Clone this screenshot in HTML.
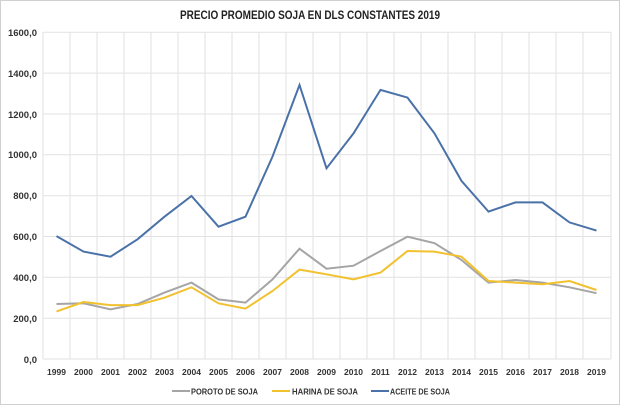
<!DOCTYPE html>
<html><head><meta charset="utf-8"><style>
html,body{margin:0;padding:0;background:#fff;}
svg{display:block;font-family:"Liberation Sans",Arial,sans-serif;}
</style></head><body>
<svg width="620" height="405" viewBox="0 0 620 405" xmlns="http://www.w3.org/2000/svg">
<rect x="0.5" y="0.5" width="619" height="404" fill="#fff" stroke="#d0d0d0"/>
<text x="180" y="19" font-size="12" font-weight="bold" fill="#222" textLength="260" lengthAdjust="spacingAndGlyphs">PRECIO PROMEDIO SOJA EN DLS CONSTANTES 2019</text>
<g stroke="#e2e2e2" stroke-width="1">
<line x1="43" y1="32.3" x2="611" y2="32.3"/><line x1="43" y1="73.1" x2="611" y2="73.1"/><line x1="43" y1="114" x2="611" y2="114"/><line x1="43" y1="154.8" x2="611" y2="154.8"/><line x1="43" y1="195.7" x2="611" y2="195.7"/><line x1="43" y1="236.5" x2="611" y2="236.5"/><line x1="43" y1="277.3" x2="611" y2="277.3"/><line x1="43" y1="318.2" x2="611" y2="318.2"/><line x1="43" y1="359" x2="611" y2="359"/>
<line x1="43" y1="32" x2="43" y2="359"/><line x1="70" y1="32" x2="70" y2="359"/><line x1="97" y1="32" x2="97" y2="359"/><line x1="124" y1="32" x2="124" y2="359"/><line x1="151" y1="32" x2="151" y2="359"/><line x1="178" y1="32" x2="178" y2="359"/><line x1="205" y1="32" x2="205" y2="359"/><line x1="232" y1="32" x2="232" y2="359"/><line x1="259" y1="32" x2="259" y2="359"/><line x1="286" y1="32" x2="286" y2="359"/><line x1="313" y1="32" x2="313" y2="359"/><line x1="340" y1="32" x2="340" y2="359"/><line x1="367" y1="32" x2="367" y2="359"/><line x1="394" y1="32" x2="394" y2="359"/><line x1="421" y1="32" x2="421" y2="359"/><line x1="448" y1="32" x2="448" y2="359"/><line x1="475" y1="32" x2="475" y2="359"/><line x1="502" y1="32" x2="502" y2="359"/><line x1="529" y1="32" x2="529" y2="359"/><line x1="556" y1="32" x2="556" y2="359"/><line x1="583" y1="32" x2="583" y2="359"/><line x1="611" y1="32" x2="611" y2="359"/>
</g>
<g font-size="9.5" font-weight="bold" fill="#333" text-anchor="end">
<text x="37" y="36">1600,0</text><text x="37" y="77">1400,0</text><text x="37" y="118">1200,0</text><text x="37" y="158">1000,0</text><text x="37" y="199">800,0</text><text x="37" y="240">600,0</text><text x="37" y="281">400,0</text><text x="37" y="322">200,0</text><text x="37" y="363">0,0</text>
</g>
<g font-size="8.5" font-weight="bold" fill="#333" text-anchor="middle">
<text x="56.5" y="375">1999</text><text x="83.5" y="375">2000</text><text x="110.5" y="375">2001</text><text x="137.5" y="375">2002</text><text x="164.5" y="375">2003</text><text x="191.5" y="375">2004</text><text x="218.5" y="375">2005</text><text x="245.5" y="375">2006</text><text x="272.5" y="375">2007</text><text x="299.5" y="375">2008</text><text x="326.5" y="375">2009</text><text x="353.5" y="375">2010</text><text x="380.5" y="375">2011</text><text x="407.5" y="375">2012</text><text x="434.5" y="375">2013</text><text x="461.5" y="375">2014</text><text x="488.5" y="375">2015</text><text x="515.5" y="375">2016</text><text x="542.5" y="375">2017</text><text x="569.5" y="375">2018</text><text x="596.5" y="375">2019</text>
</g>
<polyline fill="none" stroke="#a5a5a5" stroke-width="2" points="56.5,304 83.5,303.3 110.5,309.4 137.5,304 164.5,292.6 191.5,282.6 218.5,299.4 245.5,302.6 272.5,279.4 299.5,248.7 326.5,268.7 353.5,265.7 380.5,251 407.5,236.7 434.5,243.2 461.5,260 488.5,282.6 515.5,280 542.5,282.6 569.5,287.3 596.5,293.2"/>
<polyline fill="none" stroke="#f2c12e" stroke-width="2" points="56.5,311.4 83.5,302 110.5,305.1 137.5,305.1 164.5,297.7 191.5,287.3 218.5,303.3 245.5,308.6 272.5,291 299.5,269.6 326.5,274.3 353.5,279.4 380.5,272.6 407.5,251 434.5,251.6 461.5,256.7 488.5,281 515.5,282.6 542.5,284.3 569.5,281 596.5,290"/>
<polyline fill="none" stroke="#4a72a8" stroke-width="2" points="56.5,236.1 83.5,251.6 110.5,256.7 137.5,239.3 164.5,216.7 191.5,196 218.5,226.7 245.5,216.7 272.5,156.6 299.5,85 326.5,168.3 353.5,133.4 380.5,89.9 407.5,97.6 434.5,133.4 461.5,180.9 488.5,211.6 515.5,202.4 542.5,202.4 569.5,222.4 596.5,230.6"/>
<g font-size="8.5" font-weight="bold" fill="#333">
<line x1="172" y1="391" x2="190" y2="391" stroke="#a5a5a5" stroke-width="2"/><text x="191" y="394.5" textLength="67" lengthAdjust="spacingAndGlyphs">POROTO DE SOJA</text>
<line x1="272" y1="391" x2="290" y2="391" stroke="#f2c12e" stroke-width="2"/><text x="292" y="394.5" textLength="66" lengthAdjust="spacingAndGlyphs">HARINA DE SOJA</text>
<line x1="371" y1="391" x2="389" y2="391" stroke="#4a72a8" stroke-width="2"/><text x="390" y="394.5" textLength="60" lengthAdjust="spacingAndGlyphs">ACEITE DE SOJA</text>
</g>
</svg>
</body></html>
